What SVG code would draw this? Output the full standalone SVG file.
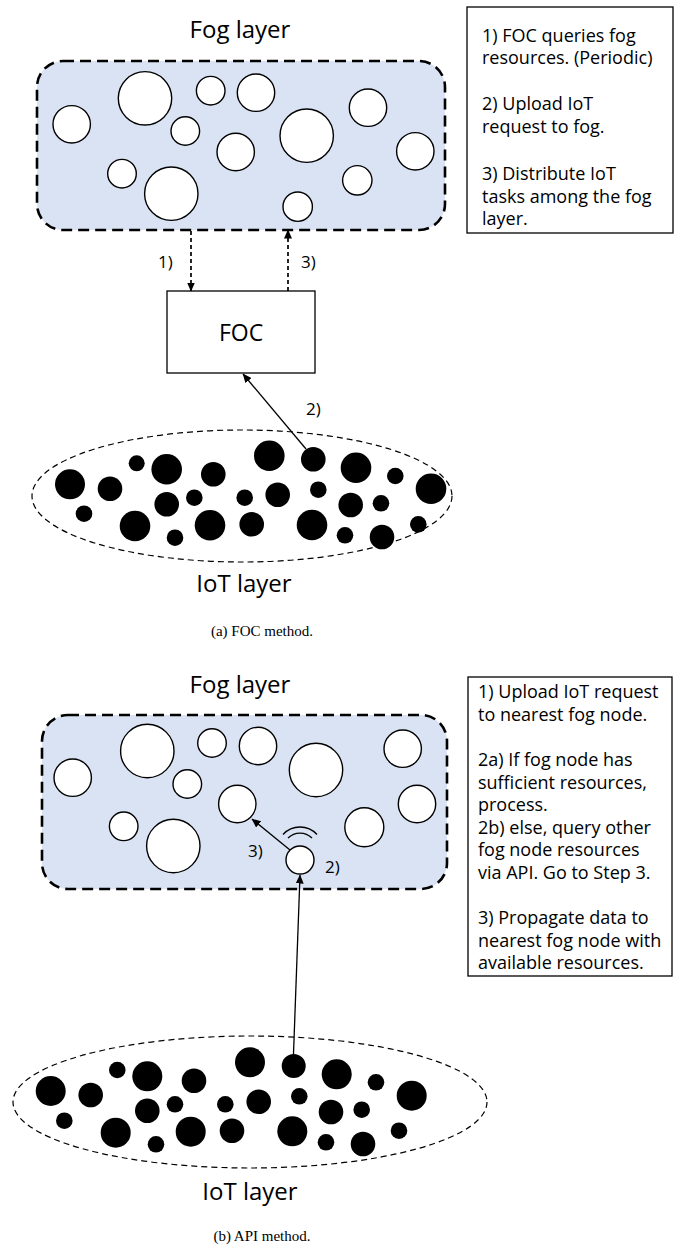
<svg xmlns="http://www.w3.org/2000/svg" width="683" height="1249" viewBox="0 0 683 1249">
<style>
.lbl{font-family:"Open Sans","Liberation Sans",sans-serif;fill:#000}
.title{font-size:24px;text-anchor:middle}
.box{font-size:18px}
.num{font-size:17px}
.cap{font-family:"Liberation Serif","Times New Roman",serif;font-size:15px;text-anchor:middle;fill:#000}
.fog{fill:#dae3f3;stroke:#000;stroke-width:2.6;stroke-dasharray:11 6}
.wn{fill:#fff;stroke:#000;stroke-width:1.4}
.bn{fill:#000}
.iot{fill:none;stroke:#000;stroke-width:1.2;stroke-dasharray:6 4}
.tb{fill:#fff;stroke:#000;stroke-width:1.3}
.dash{fill:none;stroke:#000;stroke-width:1.7;stroke-dasharray:4 3}
.solid{fill:none;stroke:#000;stroke-width:1.3}
</style>
<defs>
<marker id="ah" markerUnits="userSpaceOnUse" markerWidth="9" markerHeight="8" refX="8.5" refY="4" orient="auto">
<path d="M0,0 L9,4 L0,8 z" fill="#000"/>
</marker>
</defs>

<!-- (a) FOC method -->
<text class="lbl title" x="240" y="38">Fog layer</text>
<g id="fog-layer-a">
<rect class="fog" x="37" y="61" width="408" height="169" rx="26"/>
<circle class="wn" cx="71.7" cy="124.3" r="18.7"/>
<circle class="wn" cx="145" cy="98.3" r="26.7"/>
<circle class="wn" cx="210.7" cy="90.7" r="14.3"/>
<circle class="wn" cx="256" cy="92.7" r="18.7"/>
<circle class="wn" cx="185.3" cy="131" r="14.3"/>
<circle class="wn" cx="235.7" cy="152" r="18.7"/>
<circle class="wn" cx="306.7" cy="135.7" r="26.7"/>
<circle class="wn" cx="368" cy="107.7" r="18.7"/>
<circle class="wn" cx="415.3" cy="151.3" r="18.7"/>
<circle class="wn" cx="122" cy="173.7" r="14.3"/>
<circle class="wn" cx="171.3" cy="193.7" r="26.7"/>
<circle class="wn" cx="357.3" cy="180.3" r="14.7"/>
<circle class="wn" cx="297.7" cy="206.7" r="14.7"/>
</g>

<g id="steps-a">
<rect class="tb" x="467" y="7" width="206" height="226"/>
<text class="lbl box" x="482" y="41.5">1) FOC queries fog</text>
<text class="lbl box" x="482" y="64">resources. (Periodic)</text>
<text class="lbl box" x="482" y="110">2) Upload IoT</text>
<text class="lbl box" x="482" y="132.5">request to fog.</text>
<text class="lbl box" x="482" y="180">3) Distribute IoT</text>
<text class="lbl box" x="482" y="202.5">tasks among the fog</text>
<text class="lbl box" x="482" y="225">layer.</text>
</g>

<g id="foc">
<rect class="tb" x="167" y="291" width="148" height="82"/>
<text class="lbl" x="241" y="341" font-size="23" text-anchor="middle">FOC</text>
</g>

<g id="iot-layer-a">
<ellipse class="iot" cx="242" cy="496" rx="210" ry="66"/>
<circle class="bn" cx="70" cy="484.3" r="15"/>
<circle class="bn" cx="110" cy="488.7" r="12.3"/>
<circle class="bn" cx="136.7" cy="463.3" r="8"/>
<circle class="bn" cx="166.7" cy="469.3" r="15.3"/>
<circle class="bn" cx="213.3" cy="474.3" r="12.3"/>
<circle class="bn" cx="269.3" cy="455.7" r="15.3"/>
<circle class="bn" cx="313.3" cy="459.3" r="12.3"/>
<circle class="bn" cx="356" cy="467.7" r="15.3"/>
<circle class="bn" cx="395.3" cy="476" r="8.3"/>
<circle class="bn" cx="431" cy="488.7" r="15.3"/>
<circle class="bn" cx="84" cy="513.7" r="8.3"/>
<circle class="bn" cx="166.7" cy="504.3" r="12.3"/>
<circle class="bn" cx="194.3" cy="497.7" r="8.3"/>
<circle class="bn" cx="244.7" cy="497.7" r="8.3"/>
<circle class="bn" cx="277.7" cy="494.7" r="12.3"/>
<circle class="bn" cx="318.3" cy="489.7" r="8.3"/>
<circle class="bn" cx="350.7" cy="505" r="12.3"/>
<circle class="bn" cx="381" cy="503.3" r="8.3"/>
<circle class="bn" cx="135" cy="526" r="15.3"/>
<circle class="bn" cx="175" cy="537.7" r="8.3"/>
<circle class="bn" cx="210" cy="525.3" r="15.3"/>
<circle class="bn" cx="251.7" cy="524.3" r="12.3"/>
<circle class="bn" cx="312" cy="525" r="15.3"/>
<circle class="bn" cx="345" cy="535.3" r="8.3"/>
<circle class="bn" cx="382" cy="537" r="12.3"/>
<circle class="bn" cx="418.3" cy="524.3" r="8.3"/>
</g>
<text class="lbl title" x="244" y="592">IoT layer</text>

<g id="connectors-a">
<line class="dash" x1="191" y1="231" x2="191" y2="291" marker-end="url(#ah)"/>
<line class="dash" x1="288" y1="291" x2="288" y2="230" marker-end="url(#ah)"/>
<line class="solid" x1="306" y1="449" x2="243" y2="374" marker-end="url(#ah)"/>
<text class="lbl num" x="158" y="268">1)</text>
<text class="lbl num" x="301" y="268">3)</text>
<text class="lbl num" x="306" y="415">2)</text>
</g>
<text class="cap" x="262" y="636">(a) FOC method.</text>

<!-- (b) API method -->
<text class="lbl title" x="240" y="693">Fog layer</text>
<g id="fog-layer-b">
<rect class="fog" x="42" y="715" width="405" height="174" rx="26"/>
<circle class="wn" cx="72.7" cy="777.7" r="18.7"/>
<circle class="wn" cx="147.3" cy="751" r="26.7"/>
<circle class="wn" cx="212" cy="743" r="14.3"/>
<circle class="wn" cx="258" cy="746" r="18.7"/>
<circle class="wn" cx="187.3" cy="784" r="14.3"/>
<circle class="wn" cx="237.3" cy="804" r="18.7"/>
<circle class="wn" cx="316" cy="770" r="26.7"/>
<circle class="wn" cx="402.7" cy="748.7" r="18.7"/>
<circle class="wn" cx="417" cy="804" r="18.7"/>
<circle class="wn" cx="364.3" cy="827.3" r="19.5"/>
<circle class="wn" cx="123.7" cy="826.3" r="14.3"/>
<circle class="wn" cx="173.3" cy="846" r="26.7"/>
</g>
<g id="source-node-b">
<circle class="wn" cx="300" cy="860" r="14"/>
<path class="solid" d="M283,834.5 A23,23 0 0 1 317,834.5"/>
<path class="solid" d="M288,838 A17,17 0 0 1 312,838"/>
</g>

<g id="steps-b">
<rect class="tb" x="468" y="677" width="204" height="299"/>
<text class="lbl box" x="478" y="698">1) Upload IoT request</text>
<text class="lbl box" x="478" y="720.5">to nearest fog node.</text>
<text class="lbl box" x="478" y="766">2a) If fog node has</text>
<text class="lbl box" x="478" y="788.5">sufficient resources,</text>
<text class="lbl box" x="478" y="811">process.</text>
<text class="lbl box" x="478" y="833.5">2b) else, query other</text>
<text class="lbl box" x="478" y="856">fog node resources</text>
<text class="lbl box" x="478" y="878.5">via API. Go to Step 3.</text>
<text class="lbl box" x="478" y="924">3) Propagate data to</text>
<text class="lbl box" x="478" y="946.5">nearest fog node with</text>
<text class="lbl box" x="478" y="969">available resources.</text>
</g>

<g id="iot-layer-b">
<ellipse class="iot" cx="250" cy="1102" rx="237" ry="66"/>
<circle class="bn" cx="50.7" cy="1091" r="15"/>
<circle class="bn" cx="90.7" cy="1095" r="12.3"/>
<circle class="bn" cx="117.3" cy="1070" r="8.3"/>
<circle class="bn" cx="147.3" cy="1076.3" r="15"/>
<circle class="bn" cx="194" cy="1080.7" r="12.3"/>
<circle class="bn" cx="250" cy="1062.3" r="15"/>
<circle class="bn" cx="293.7" cy="1066" r="12"/>
<circle class="bn" cx="336.7" cy="1074.3" r="15"/>
<circle class="bn" cx="376" cy="1082.3" r="8.3"/>
<circle class="bn" cx="411.7" cy="1095.7" r="15"/>
<circle class="bn" cx="64.3" cy="1120.7" r="8.3"/>
<circle class="bn" cx="147.3" cy="1110.7" r="12.3"/>
<circle class="bn" cx="175" cy="1104.3" r="8.3"/>
<circle class="bn" cx="225.3" cy="1104.3" r="8.3"/>
<circle class="bn" cx="258.7" cy="1101.7" r="12.3"/>
<circle class="bn" cx="299.3" cy="1096.3" r="8.3"/>
<circle class="bn" cx="331" cy="1112" r="12.3"/>
<circle class="bn" cx="361.7" cy="1109.7" r="8.3"/>
<circle class="bn" cx="115.7" cy="1132.7" r="15"/>
<circle class="bn" cx="156" cy="1144.3" r="8.3"/>
<circle class="bn" cx="190.7" cy="1131.7" r="15"/>
<circle class="bn" cx="232" cy="1130.7" r="12.3"/>
<circle class="bn" cx="292.3" cy="1131.3" r="15"/>
<circle class="bn" cx="326" cy="1142.3" r="8.3"/>
<circle class="bn" cx="363" cy="1144" r="12.3"/>
<circle class="bn" cx="399" cy="1130.7" r="8.3"/>
</g>
<text class="lbl title" x="250" y="1200">IoT layer</text>

<g id="connectors-b">
<line class="solid" x1="293.5" y1="1054" x2="300" y2="875" marker-end="url(#ah)"/>
<line class="solid" x1="290" y1="850" x2="252" y2="819" marker-end="url(#ah)"/>
<text class="lbl num" x="248" y="857">3)</text>
<text class="lbl num" x="325" y="873">2)</text>
</g>
<text class="cap" x="262" y="1241">(b) API method.</text>
</svg>
